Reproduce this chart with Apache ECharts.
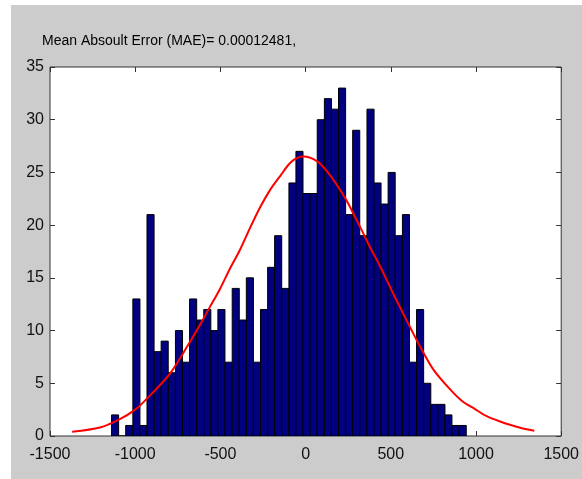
<!DOCTYPE html>
<html>
<head>
<meta charset="utf-8">
<script src="https://cdn.jsdelivr.net/npm/echarts@6/dist/echarts.min.js"></script>
<style>
html,body{margin:0;padding:0;background:#fff;}
#chart{width:582px;height:479px;}
</style>
</head>
<body>
<div id="chart"></div>
<script>
//直方图区间中心
var binCenters = [-1118, -1077, -1035, -993, -952, -910, -868, -827, -785, -743,
	-702, -660, -619, -577, -535, -494, -452, -410, -369, -327,
	-286, -244, -202, -161, -119, -77, -36, 6, 47, 89,
	131, 172, 214, 256, 297, 339, 381, 422, 464, 505,
	547, 589, 630, 672, 714, 755, 797, 838, 880, 922];
var binWidth = 41.6;
//每个区间的个数
var counts = [2, 0, 1, 13, 1, 21, 8, 9, 6, 10,
	7, 13, 11, 12, 10, 12, 7, 14, 11, 15,
	7, 12, 16, 19, 14, 24, 27, 23, 23, 30,
	32, 31, 33, 21, 29, 19, 31, 24, 22, 25,
	19, 21, 7, 12, 5, 3, 3, 2, 1, 1];
//红色拟合曲线
var fitX = [-1370, -1207, -1090, -1000, -934, -797, -680, -621, -563, -504,
	-440, -387, -330, -270, -210, -152, -84, -12, 72, 130,
	180, 238, 277, 330, 375, 434, 473, 520, 570, 620,
	668, 750, 844, 920, 990, 1060, 1137, 1254, 1342];
var fitY = [0.4, 0.8, 1.6, 2.5, 3.5, 5.9, 8.9, 10.5, 12.2, 13.9,
	16.0, 17.6, 19.6, 21.6, 23.3, 24.6, 26.0, 26.5, 26.0, 25.0,
	23.9, 22.4, 21.2, 19.5, 18.0, 16.2, 14.9, 13.3, 11.7, 10.1,
	8.6, 6.3, 4.5, 3.3, 2.6, 1.9, 1.4, 0.8, 0.5];
var titleText = 'Mean Absoult Error (MAE)= 0.00012481,';

var font = "'Liberation Sans', Arial, sans-serif";

var myChart = echarts.init(document.getElementById('chart'));

var barData = [];
for (var i = 0; i < binCenters.length; i++) {
	barData.push([binCenters[i], counts[i]]);
}
var lineData = [];
for (var j = 0; j < fitX.length; j++) {
	lineData.push([fitX[j], fitY[j]]);
}

function renderBar(params, api) {
	var x = api.value(0), h = api.value(1);
	var p0 = api.coord([x - binWidth / 2, h]);
	var p1 = api.coord([x + binWidth / 2, 0]);
	return {
		type: 'rect',
		shape: { x: p0[0], y: p0[1], width: p1[0] - p0[0], height: p1[1] - p0[1] },
		style: { fill: '#000080', stroke: '#000000', lineWidth: 1 }
	};
}

function plain(v) { return String(v); }

var tickStyle = { show: true, inside: true, length: 5, lineStyle: { color: '#333', width: 1 } };
var labelStyle = { color: '#111', fontFamily: font, fontSize: 16, formatter: plain };
var noLine = { show: false, onZero: false };

var option = {
	animation: false,
	backgroundColor: '#cccccc',
	graphic: [
		{ type: 'rect', shape: { x: 0, y: 0, width: 582, height: 5 }, style: { fill: '#fff' } },
		{ type: 'rect', shape: { x: 0, y: 0, width: 11, height: 479 }, style: { fill: '#fff' } }
	],
	title: {
		text: titleText,
		left: 42,
		top: 34,
		padding: 0,
		textStyle: { color: '#000', fontFamily: font, fontSize: 14, fontWeight: 'normal' }
	},
	grid: {
		left: 50,
		top: 67,
		width: 512,
		height: 369,
		show: true,
		backgroundColor: '#fff',
		borderColor: '#333',
		borderWidth: 1
	},
	xAxis: [{
		type: 'value',
		min: -1500,
		max: 1500,
		interval: 500,
		axisLine: noLine,
		axisTick: tickStyle,
		splitLine: { show: false },
		axisLabel: Object.assign({ margin: 11 }, labelStyle)
	}, {
		type: 'value',
		position: 'top',
		min: -1500,
		max: 1500,
		interval: 500,
		axisLine: noLine,
		axisTick: tickStyle,
		splitLine: { show: false },
		axisLabel: { show: false }
	}],
	yAxis: [{
		type: 'value',
		min: 0,
		max: 35,
		interval: 5,
		axisLine: noLine,
		axisTick: tickStyle,
		splitLine: { show: false },
		axisLabel: Object.assign({ margin: 6 }, labelStyle)
	}, {
		type: 'value',
		position: 'right',
		min: 0,
		max: 35,
		interval: 5,
		axisLine: noLine,
		axisTick: tickStyle,
		splitLine: { show: false },
		axisLabel: { show: false }
	}],
	series: [{
		type: 'custom',
		renderItem: renderBar,
		data: barData,
		encode: { x: 0, y: 1 },
		clip: true
	}, {
		type: 'line',
		data: lineData,
		smooth: 0.3,
		showSymbol: false,
		lineStyle: { color: '#ff0000', width: 2 },
		z: 5
	}]
};
myChart.setOption(option);
</script>
</body>
</html>
